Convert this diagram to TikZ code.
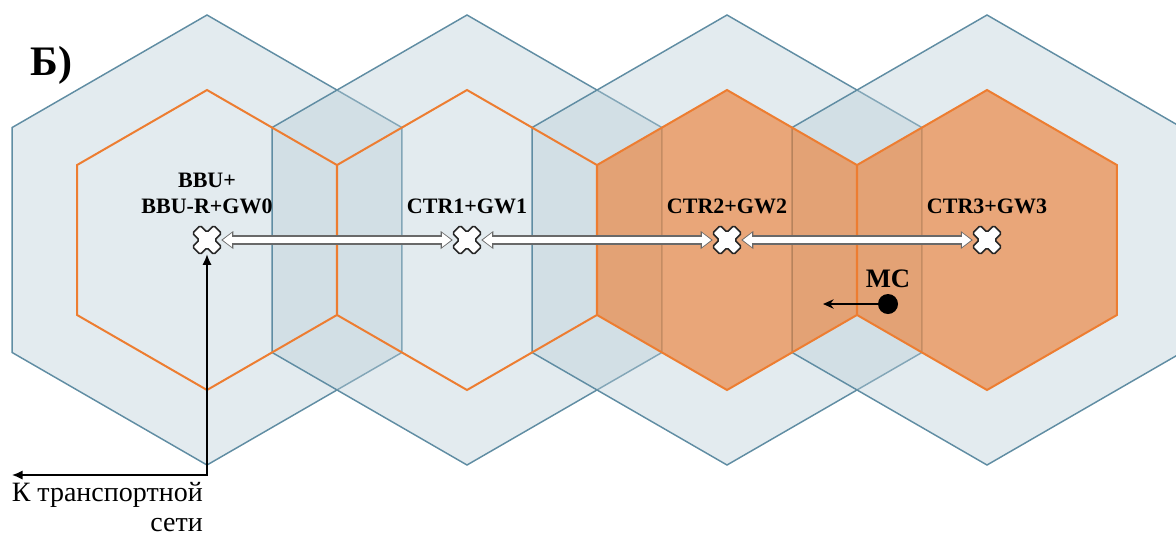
\documentclass[tikz,border=0pt]{standalone}
\usepackage{fontspec}
\setmainfont{Liberation Serif}
\usetikzlibrary{arrows.meta,positioning}

\definecolor{cellblue}{RGB}{185,205,215}
\definecolor{celledge}{RGB}{96,141,163}
\definecolor{zoneorange}{RGB}{237,125,49}
\definecolor{linkgray}{RGB}{105,105,105}

\tikzset{
	bigcell/.style={draw=celledge, line width=1.1pt, fill=cellblue, fill opacity=0.4},
	zonefill/.style={fill=zoneorange, fill opacity=0.62},
	zoneedge/.style={draw=zoneorange, line width=1.5pt},
	gw/.style={circle, minimum size=21pt, inner sep=0pt},
	gwlabel/.style={font=\bfseries\fontsize{16.5}{19.5}\selectfont, inner sep=0pt},
	linkouter/.style={line width=6.8pt, draw=linkgray,
		{Triangle[length=9pt,width=13.5pt,line width=0pt]}-{Triangle[length=9pt,width=13.5pt,line width=0pt]}},
	linkinner/.style={line width=5.2pt, draw=white, shorten <=1.2pt, shorten >=1.2pt,
		{Triangle[length=6.8pt,width=10.5pt,line width=0pt]}-{Triangle[length=6.8pt,width=10.5pt,line width=0pt]}},
	netarrow/.style={line width=1.1pt, {Latex[length=8pt,width=7pt]}-{Latex[length=8pt,width=7pt]}},
	gwcross/.pic={
		\draw[fill=white, draw=black!85, line width=1.2pt, rounded corners=1.2pt, rotate=45]
		(-5.5,-15) -- (5.5,-15) -- (5.5,-5.5) -- (15,-5.5) -- (15,5.5) -- (5.5,5.5) --
		(5.5,15) -- (-5.5,15) -- (-5.5,5.5) -- (-15,5.5) -- (-15,-5.5) -- (-5.5,-5.5) -- cycle;
	}
}

\begin{document}
\begin{tikzpicture}[x=0.75pt, y=-0.75pt]
	\useasboundingbox (0,0) rectangle (1176,537);
	
	% coverage cells
	\foreach \x in {207,467,727,987}
		\draw[bigcell] (\x,240) +(90:225) -- +(30:225) -- +(-30:225) -- +(-90:225) -- +(-150:225) -- +(150:225) -- cycle;
	
	% served zones, two of them already taken
	\foreach \x in {727,987}
		\fill[zonefill] (\x,240) +(90:150) -- +(30:150) -- +(-30:150) -- +(-90:150) -- +(-150:150) -- +(150:150) -- cycle;
	\foreach \x in {207,467,727,987}
		\draw[zoneedge] (\x,240) +(90:150) -- +(30:150) -- +(-30:150) -- +(-90:150) -- +(-150:150) -- +(150:150) -- cycle;
	
	\node[font=\bfseries\fontsize{31.5}{36}\selectfont, anchor=base west, inner sep=0pt] (title) at (30,75) {Б)};
	
	% gateways
	\node[gw] (g0) at (207,240) {};
	\node[gw] (g1) at (467,240) {};
	\node[gw] (g2) at (727,240) {};
	\node[gw] (g3) at (987,240) {};
	
	\node[gwlabel, align=center, anchor=base] (l0) at (207,213) {BBU+\\BBU-R+GW0};
	\node[gwlabel, anchor=base] (l1) at (467,213) {CTR1+GW1};
	\node[gwlabel, anchor=base] (l2) at (727,213) {CTR2+GW2};
	\node[gwlabel, anchor=base] (l3) at (987,213) {CTR3+GW3};
	
	\foreach \a/\b in {g0/g1,g1/g2,g2/g3} {
		\draw[linkouter] (\a) -- (\b);
		\draw[linkinner] (\a) -- (\b);
	}
	\foreach \g in {g0,g1,g2,g3}
		\pic at (\g) {gwcross};
	
	% uplink to the transport network
	\coordinate (tcorner) at (207,475);
	\coordinate (tend) at (12,475);
	\draw[netarrow] (g0) -- (tcorner) -- (tend);
	\node[font=\fontsize{21}{22}\selectfont, align=right, anchor=base east, inner sep=0pt] (net) at (203,531) {К транспортной\\сети};
	
	% mobile station
	\node[circle, fill=black, minimum size=15pt, inner sep=0pt] (ms) at (888,304) {};
	\coordinate (msend) at (823,304);
	\draw[line width=1.1pt, -{Stealth[length=8pt,width=7pt]}] (ms) -- (msend);
	\node[gwlabel, font=\bfseries\fontsize{20}{24}\selectfont, anchor=base] (mslabel) at (888,287) {МС};
\end{tikzpicture}
\end{document}
